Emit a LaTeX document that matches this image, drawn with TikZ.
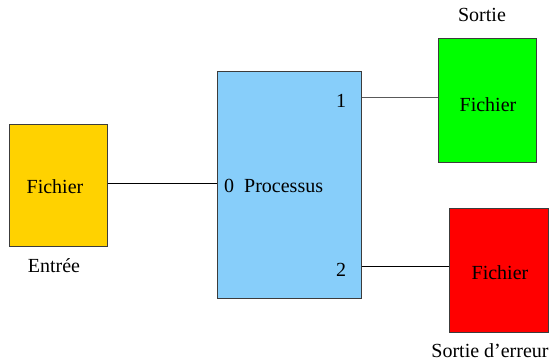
\documentclass[tikz,border=0pt]{standalone}
\usepackage{fontspec}
\setmainfont{Liberation Serif}
\definecolor{cyellow}{RGB}{255,210,0}
\definecolor{cblue}{RGB}{135,206,250}
\definecolor{cgreen}{RGB}{0,255,0}
\definecolor{cred}{RGB}{255,0,0}
\definecolor{cborder}{RGB}{60,60,60}
\tikzset{
  filebox/.style={draw=cborder, line width=1pt, inner sep=0pt},
  lbl/.style={inner sep=0pt, font=\fontsize{20}{24}\selectfont},
  conn/.style={line width=1pt}
}
\begin{document}
\begin{tikzpicture}[x=1pt,y=-1pt]
\useasboundingbox (0,0) rectangle (549,361);
\node[filebox, fill=cyellow, minimum width=98pt, minimum height=122pt] (fin) at (58,185) {};
\node[filebox, fill=cblue, minimum width=144pt, minimum height=226pt] (proc) at (289,185) {};
\node[filebox, fill=cgreen, minimum width=98pt, minimum height=123pt] (fout) at (487,100.5) {};
\node[filebox, fill=cred, minimum width=99pt, minimum height=124pt] (ferr) at (498.5,270) {};
\node[lbl] (tfin) at (55,187) {Fichier};
\node[lbl] (tfout) at (488,105) {Fichier};
\node[lbl] (tferr) at (500,273) {Fichier};
\node[lbl] (l0) at (229,186) {0};
\node[lbl, anchor=west] (lp) at (244,186) {Processus};
\node[lbl] (l1) at (341,101) {1};
\node[lbl] (l2) at (341,270) {2};
\node[lbl] (tin) at (54,266) {Entrée};
\node[lbl] (tout) at (482,15) {Sortie};
\node[lbl] (terr) at (490,351) {Sortie d’erreur};
\coordinate (p0) at (217,183);
\coordinate (p1) at (361,97);
\coordinate (p2) at (361,266);
\draw[conn] (fin.east |- p0) -- (proc.west |- p0);
\draw[conn, draw=gray!70!black] (proc.east |- p1) -- (fout.west |- p1);
\draw[conn] (proc.east |- p2) -- (ferr.west |- p2);
\end{tikzpicture}
\end{document}
